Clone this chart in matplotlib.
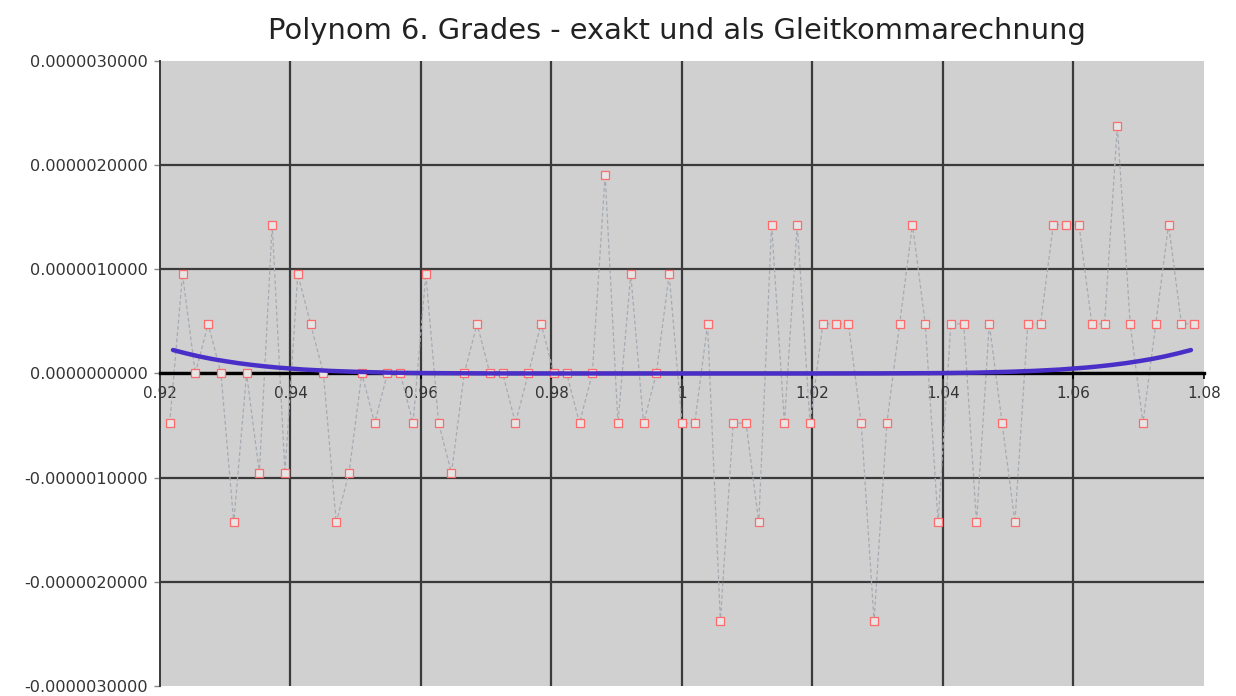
import numpy as np
import matplotlib
matplotlib.use("Agg")
from matplotlib import pyplot as plt

# float evaluation of the polynomial, values in units of 1e-7
x_float = np.linspace(0.9215, 1.0785, 81)
y_float_e7 = [-4.77, 9.54, 0, 4.77, 0, -14.3, 0, -9.54, 14.3, -9.54,
              9.54, 4.77, 0, -14.3, -9.54, 0, -4.77, 0, 0, -4.77,
              9.54, -4.77, -9.54, 0, 4.77, 0, 0, -4.77, 0, 4.77,
              0, 0, -4.77, 0, 19.1, -4.77, 9.54, -4.77, 0, 9.54,
              -4.77, -4.77, 4.77, -23.8, -4.77, -4.77, -14.3, 14.3, -4.77, 14.3,
              -4.77, 4.77, 4.77, 4.77, -4.77, -23.8, -4.77, 4.77, 14.3, 4.77,
              -14.3, 4.77, 4.77, -14.3, 4.77, -4.77, -14.3, 4.77, 4.77, 14.3,
              14.3, 14.3, 4.77, 4.77, 23.8, 4.77, -4.77, 4.77, 14.3, 4.77,
              4.77]

# exact polynomial (units of 1e-7)
x_exact = [0.922, 0.924, 0.926, 0.928, 0.930, 0.932, 0.934, 0.936, 0.938,
           0.942, 0.946, 0.950, 0.955, 0.960, 0.970, 0.980, 0.990, 1.000,
           1.010, 1.020, 1.030, 1.040, 1.045, 1.050, 1.054, 1.058, 1.062,
           1.064, 1.066, 1.068, 1.070, 1.072, 1.074, 1.076, 1.078]
y_exact_e7 = [2.25, 1.93, 1.64, 1.39, 1.18, 0.99, 0.83, 0.69, 0.57,
              0.38, 0.25, 0.16, 0.08, 0.04, 0.007, 0.0006, 0.0, 0.0,
              0.0, 0.0006, 0.007, 0.04, 0.08, 0.16, 0.25, 0.38, 0.57,
              0.69, 0.83, 0.99, 1.18, 1.39, 1.64, 1.93, 2.25]

x_ticks = [0.92, 0.94, 0.96, 0.98, 1.0, 1.02, 1.04, 1.06, 1.08]
y_ticks = [-3e-6, -2e-6, -1e-6, 0, 1e-6, 2e-6, 3e-6]

title = "Polynom 6. Grades - exakt und als Gleitkommarechnung"


def main():
    fig = plt.figure(figsize=(12.36, 6.96), dpi=100)
    ax = fig.add_axes([0.1294, 0.0144, 0.8447, 0.898])
    ax.set_facecolor("#d0d0d0")
    ax.set_xlim(0.92, 1.08)
    ax.set_ylim(-3e-6, 3e-6)

    # grid lines, only inside the plot area
    for xt in x_ticks[1:-1]:
        ax.axvline(xt, color="#3a3a3a", lw=1.6, zorder=1)
    for yt in y_ticks[1:-1]:
        ax.axhline(yt, color="#3a3a3a", lw=1.6, zorder=1)

    y_float = np.array(y_float_e7) * 1e-7
    ax.plot(x_float, y_float, ls=(0, (3, 2)), lw=0.9, color="#a6abb2", zorder=2)
    ax.plot(x_float, y_float, ls="none", marker="s", ms=5.5, mfc="#e6e6e6",
            mec="#ff6a6a", mew=0.9, zorder=4)

    ax.plot(x_exact, np.array(y_exact_e7) * 1e-7, color="#4a2ec8", lw=3.2,
            solid_capstyle="round", zorder=5)

    # axes: x axis sits at y = 0
    for s in ["top", "right"]:
        ax.spines[s].set_visible(False)
    ax.spines["bottom"].set_position(("data", 0))
    ax.spines["bottom"].set_linewidth(2.4)
    ax.spines["bottom"].set_color("black")
    ax.spines["bottom"].set_zorder(3)
    ax.spines["left"].set_linewidth(1.4)
    ax.spines["left"].set_color("#3a3a3a")

    ax.set_xticks(x_ticks)
    ax.set_xticklabels(["%g" % v for v in x_ticks])
    ax.set_yticks(y_ticks)
    ax.set_yticklabels(["%.10f" % v for v in y_ticks])
    ax.tick_params(axis="x", length=4, width=1.2, pad=5, labelsize=11,
                   labelcolor="#333333")
    ax.tick_params(axis="y", length=4, width=1, pad=5, labelsize=11.6,
                   labelcolor="#333333", color="#888888")

    fig.text(0.548, 0.955, title, ha="center", va="center", fontsize=20.8,
             color="#222222")

    fig.savefig("out.png", dpi=100, facecolor="white")


if __name__ == "__main__":
    main()
